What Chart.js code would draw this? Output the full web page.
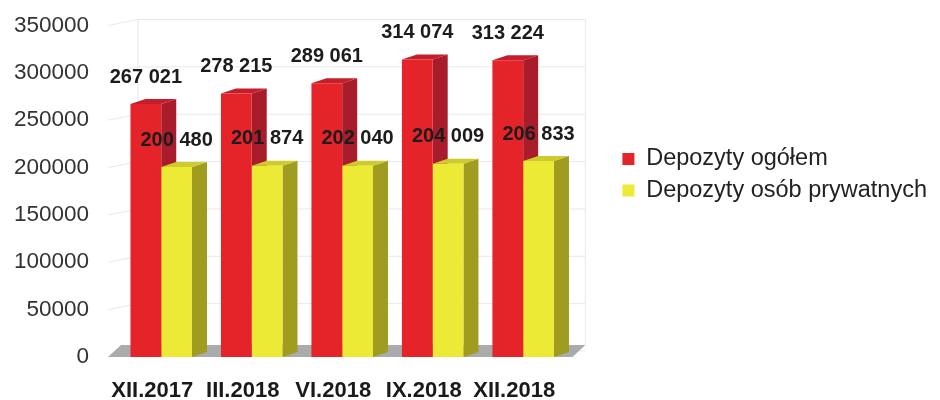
<!DOCTYPE html>
<html>
<head>
<meta charset="utf-8">
<script src="https://cdn.jsdelivr.net/npm/chart.js@4.4.1/dist/chart.umd.min.js"></script>
<style>
  html, body { margin: 0; padding: 0; background: #fff; }
  #wrap { width: 940px; height: 400px; }
</style>
</head>
<body>
<div id="wrap"><canvas id="chart"></canvas></div>
<script>
const periods = ['XII.2017', 'III.2018', 'VI.2018', 'IX.2018', 'XII.2018'];
const depozytyOgolem = [267021, 278215, 289061, 314074, 313224];
const depozytyPrywatne = [200480, 201874, 202040, 204009, 206833];
const seriesNames = ['Depozyty ogółem', 'Depozyty osób prywatnych'];
const yMax = 350000;
const yStep = 50000;

const FONT = "'Liberation Sans', Arial, sans-serif";
const frontColors = ['rgb(228, 36, 40)', 'rgb(236, 234, 52)'];
const sideColors = ['rgb(168, 28, 44)', 'rgb(160, 156, 32)'];
const topColors = ['rgb(196, 30, 42)', 'rgb(206, 204, 44)'];

// thousands with a space, like "267 021"
const fmt = v => String(v).replace(/\B(?=(\d{3})+(?!\d))/g, ' ');

const fake3d = {
  id: 'fake3d',
  afterLayout(chart) {
    // legend sits a bit above the middle in the original
    chart.legend.top -= 38;
    chart.legend.bottom -= 38;
  },
  beforeDatasetsDraw(chart) {
    const ctx = chart.ctx;
    const area = chart.chartArea;
    const y = chart.scales.y;
    ctx.save();

    // back wall grid
    const wdx = 22, wdy = -6;
    ctx.strokeStyle = '#e6e9ee';
    ctx.lineWidth = 1;
    for (let v = 0; v <= yMax; v += yStep) {
      const py = y.getPixelForValue(v);
      ctx.beginPath();
      ctx.moveTo(area.left - 8, py);
      ctx.lineTo(area.left + wdx, py + wdy);
      ctx.lineTo(area.right + 17, py + wdy);
      ctx.stroke();
    }
    ctx.beginPath();
    ctx.moveTo(area.left + wdx, y.getPixelForValue(yMax) + wdy);
    ctx.lineTo(area.left + wdx, area.bottom - 12);
    ctx.moveTo(area.right + 17, y.getPixelForValue(yMax) + wdy);
    ctx.lineTo(area.right + 17, area.bottom - 12);
    ctx.stroke();

    // floor
    ctx.fillStyle = '#a9abad';
    ctx.beginPath();
    ctx.moveTo(area.left - 8, area.bottom);
    ctx.lineTo(area.right + 4, area.bottom);
    ctx.lineTo(area.right + 17, area.bottom - 12);
    ctx.lineTo(area.left + 5, area.bottom - 12);
    ctx.closePath();
    ctx.fill();

    // side and top faces, red series first
    const dx = 15, dy = -5;
    chart.data.datasets.forEach((ds, i) => {
      const meta = chart.getDatasetMeta(i);
      meta.data.forEach(bar => {
        const l = bar.x - bar.width / 2;
        const r = bar.x + bar.width / 2;
        ctx.fillStyle = sideColors[i];
        ctx.beginPath();
        ctx.moveTo(r, bar.y);
        ctx.lineTo(r + dx, bar.y + dy);
        ctx.lineTo(r + dx, bar.base + dy);
        ctx.lineTo(r, bar.base);
        ctx.closePath();
        ctx.fill();
        ctx.fillStyle = topColors[i];
        ctx.beginPath();
        ctx.moveTo(l, bar.y);
        ctx.lineTo(l + dx, bar.y + dy);
        ctx.lineTo(r + dx, bar.y + dy);
        ctx.lineTo(r, bar.y);
        ctx.closePath();
        ctx.fill();
      });
    });
    ctx.restore();
  },
  afterDatasetsDraw(chart) {
    const ctx = chart.ctx;
    ctx.save();
    ctx.font = 'bold 20px ' + FONT;
    ctx.fillStyle = '#1c1c1c';
    ctx.textAlign = 'center';
    ctx.textBaseline = 'middle';
    chart.data.datasets.forEach((ds, i) => {
      chart.getDatasetMeta(i).data.forEach((bar, j) => {
        ctx.fillText(fmt(ds.data[j]), bar.x, bar.y - 27);
      });
    });
    ctx.restore();
  }
};

new Chart(document.getElementById('chart'), {
  type: 'bar',
  data: {
    labels: periods,
    datasets: [
      {
        label: seriesNames[0],
        data: depozytyOgolem,
        backgroundColor: frontColors[0],
        borderWidth: 0
      },
      {
        label: seriesNames[1],
        data: depozytyPrywatne,
        backgroundColor: frontColors[1],
        borderWidth: 0
      }
    ]
  },
  options: {
    responsive: true,
    maintainAspectRatio: false,
    animation: false,
    layout: { padding: { top: 25.5, right: 3, bottom: 0, left: 0 } },
    datasets: { bar: { categoryPercentage: 0.68, barPercentage: 1.0 } },
    scales: {
      x: {
        grid: { display: false },
        border: { display: false },
        ticks: {
          color: '#1a1a1a',
          font: { family: FONT, size: 22, weight: 'bold' },
          padding: 13,
          labelOffset: -9,
          maxRotation: 0,
          autoSkip: false
        },
        afterFit(s) { s.height = 43; }
      },
      y: {
        min: 0,
        max: yMax,
        grid: { display: false },
        border: { display: false },
        ticks: {
          stepSize: yStep,
          color: '#333',
          font: { family: FONT, size: 22.5 },
          padding: 19,
          callback: v => String(v)
        },
        afterFit(s) {
          s.width = 116;
          s.paddingTop = 0;
          s.paddingBottom = 0;
        }
      },
      // empty axis, only keeps room between bars and legend
      y2: {
        position: 'right',
        grid: { display: false },
        border: { display: false },
        ticks: { display: false },
        afterFit(s) { s.width = 46; }
      }
    },
    plugins: {
      legend: {
        position: 'right',
        maxWidth: 330,
        labels: {
          boxWidth: 12,
          boxHeight: 12,
          padding: 8,
          color: '#222',
          font: { family: FONT, size: 23.5 }
        }
      },
      tooltip: { enabled: false }
    }
  },
  plugins: [fake3d]
});
</script>
</body>
</html>
